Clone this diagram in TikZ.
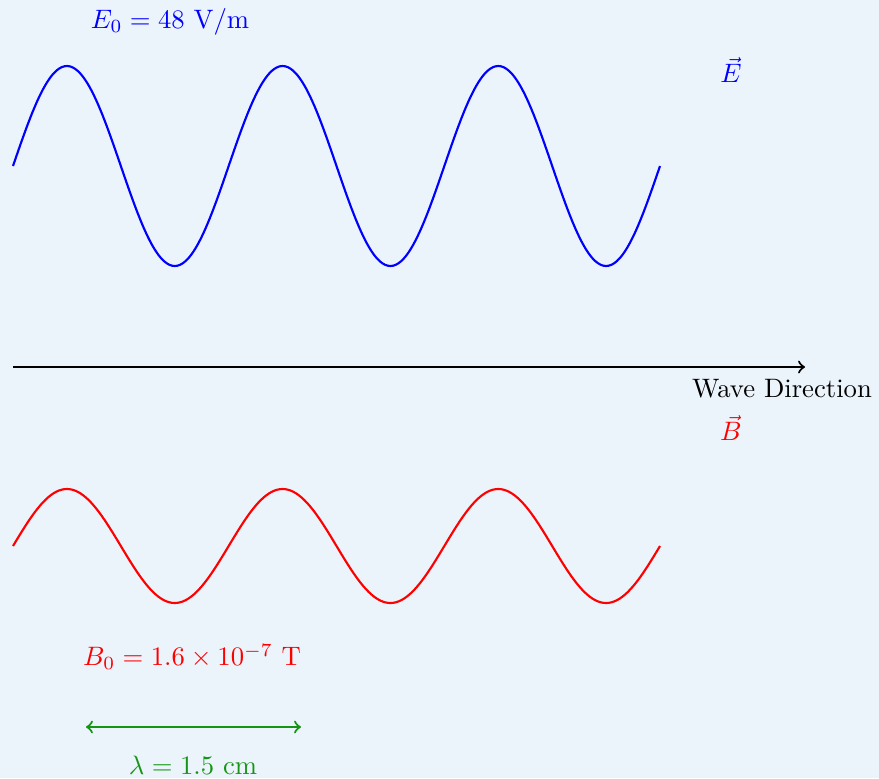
\documentclass[tikz,border=0pt]{standalone}
\definecolor{bgc}{RGB}{235,243,251}
\definecolor{lamc}{RGB}{20,150,20}
\tikzset{
  wave/.style={line width=0.8pt},
  lbl/.style={inner sep=0pt}
}
\begin{document}
\begin{tikzpicture}[x=0.375pt,y=-0.375pt]
\fill[bgc] (0,0) rectangle (879,778);
\useasboundingbox (0,0) rectangle (879,778);
% E wave
\draw[wave,blue] plot[domain=0:647,samples=241,smooth] ({13+\x},{166-100*sin(\x*1.66924)});
% B wave
\draw[wave,red] plot[domain=0:647,samples=241,smooth] ({13+\x},{546-57*sin(\x*1.66924)});
% direction arrow
\coordinate (as) at (13,367);
\coordinate (ae) at (805,367);
\draw[line width=0.8pt,->] (as) -- (ae);
\node[lbl] (wd) at (782,389) {Wave Direction};
% labels
\node[lbl,blue] (ev) at (731,70) {$\vec{E}$};
\node[lbl,red] (bv) at (731,428) {$\vec{B}$};
\node[lbl,blue] (e0) at (170,22) {$E_0 = 48$ V/m};
\node[lbl,red] (b0) at (192,657) {$B_0 = 1.6\times10^{-7}$ T};
% wavelength
\coordinate (ls) at (86,727);
\coordinate (le) at (301,727);
\draw[lamc,line width=0.8pt,<->] (ls) -- (le);
\node[lbl,lamc] (lam) at (193,765) {$\lambda = 1.5$ cm};
\end{tikzpicture}
\end{document}
